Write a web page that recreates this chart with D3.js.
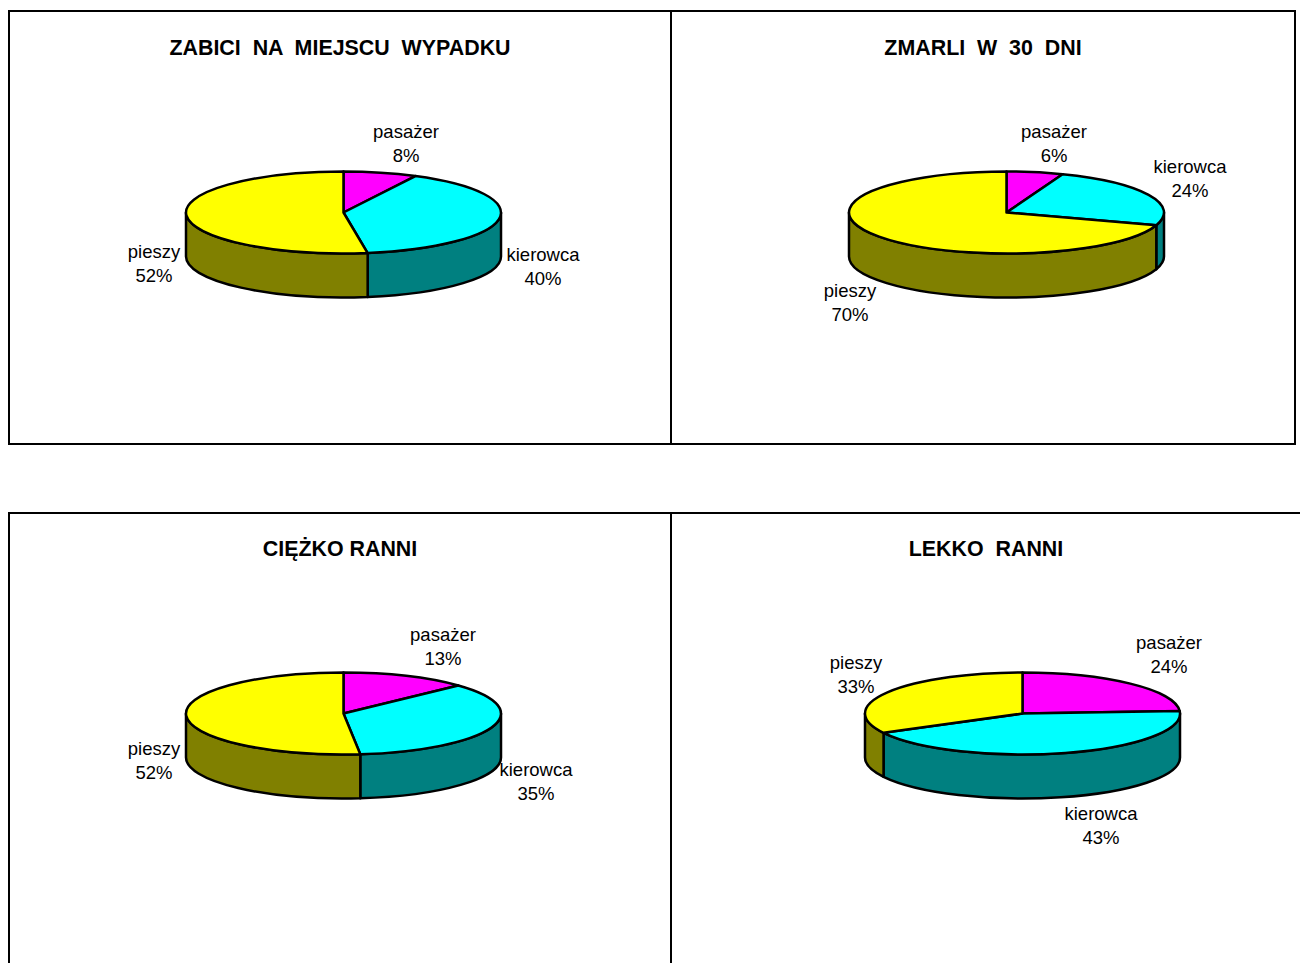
<!DOCTYPE html>
<html><head><meta charset="utf-8">
<script src="https://cdn.jsdelivr.net/npm/d3@7"></script>
<style>html,body{margin:0;padding:0;background:#fff}svg{display:block}
text{font-family:"Liberation Sans",Arial,sans-serif;fill:#000;white-space:pre}</style>
</head><body>
<script>
// Data
const categories = ["pasażer", "kierowca", "pieszy"];
const titles = ["ZABICI  NA  MIEJSCU  WYPADKU", "ZMARLI  W  30  DNI", "CIĘŻKO RANNI", "LEKKO  RANNI"];
const zabici = [7.55, 40, 52.45];
const zmarli = [5.8, 24.2, 70];
const ciezko = [13, 35.3, 51.7];
const lekko = [24, 43.2, 32.8];
const allValues = [zabici, zmarli, ciezko, lekko];

// Layout
const W = 1300, H = 963;
const topColors = ["#ff00ff", "#00ffff", "#ffff00"];
const sideColors = ["#800080", "#008080", "#808000"];
const rx = 157.5, ry = 41, depth = 44;
const layout = [
  {cx:343.5, cy:212.5, tx:340, ty:54.5, labels:[[406,137.5],[543,261],[154,257.5]]},
  {cx:1006.5, cy:212.5, tx:983, ty:54.5, labels:[[1054,137.5],[1190,173],[850,296.5]]},
  {cx:343.5, cy:713.5, tx:340, ty:555.5, labels:[[443,641],[536,776],[154,755]]},
  {cx:1022.5, cy:713.5, tx:986, ty:555.5, labels:[[1169,649],[1101,820],[856,669]]}
];

const svg = d3.select("body").append("svg").attr("width", W).attr("height", H);

// Frames
svg.append("path").attr("fill","none").attr("stroke","#000").attr("stroke-width",2)
  .attr("d","M9,11H1295V444H9Z M671,11V444 M1300,513H9V963 M671,513V963");

const pie = d3.pie().sort(null).value(d => d);
const arcTop = d3.arc().innerRadius(0).outerRadius(rx);
const pct = d3.format(".0%");
const px = a => rx * Math.sin(a), py = a => -ry * Math.cos(a);

allValues.forEach((vals, i) => {
  const L = layout[i];
  const total = d3.sum(vals);
  const arcs = pie(vals);
  const g = svg.append("g").attr("transform", `translate(${L.cx},${L.cy})`);

  // Side walls: the visible front part of each slice
  arcs.forEach((d, j) => {
    const a0 = Math.max(d.startAngle, Math.PI / 2);
    const a1 = Math.min(d.endAngle, 3 * Math.PI / 2);
    if (a1 <= a0) return;
    g.append("path")
      .attr("d", `M${px(a0)},${py(a0)}A${rx},${ry} 0 0 1 ${px(a1)},${py(a1)}` +
                 `L${px(a1)},${py(a1)+depth}A${rx},${ry} 0 0 0 ${px(a0)},${py(a0)+depth}Z`)
      .attr("fill", sideColors[j]).attr("stroke","#000").attr("stroke-width",2.5).attr("stroke-linejoin","round");
  });

  // Top face
  const topG = g.append("g").attr("transform", `scale(1,${ry/rx})`);
  arcs.forEach((d, j) => {
    topG.append("path").attr("d", arcTop(d)).attr("fill", topColors[j])
      .attr("stroke","#000").attr("stroke-width",2.5).attr("stroke-linejoin","round")
      .attr("vector-effect","non-scaling-stroke");
  });

  // Title
  svg.append("text").attr("x", L.tx).attr("y", L.ty).attr("text-anchor","middle")
    .attr("font-weight","bold").attr("font-size",21.4).text(titles[i]);

  // Labels
  categories.forEach((c, j) => {
    const [x, y] = L.labels[j];
    const t = svg.append("text").attr("text-anchor","middle").attr("font-size",18.5);
    t.append("tspan").attr("x",x).attr("y",y).text(c);
    t.append("tspan").attr("x",x).attr("y",y+24).text(pct(vals[j]/total));
  });
});
</script>
</body></html>
